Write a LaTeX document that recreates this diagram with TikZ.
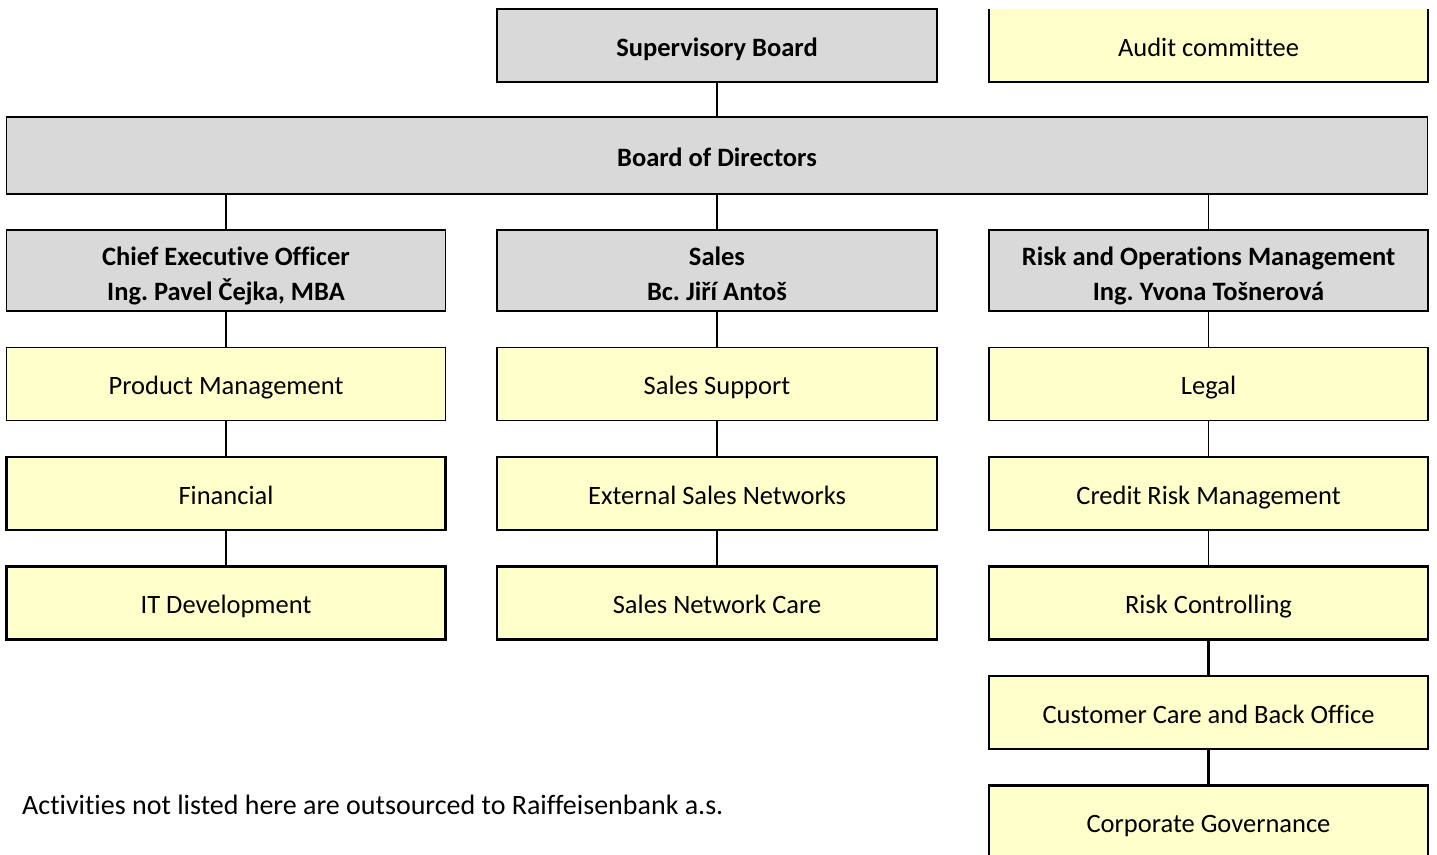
\documentclass[tikz,border=0pt]{standalone}
\usepackage{fontspec}
\setmainfont{Carlito}[Ligatures={TeX,NoCommon}]
\usepackage{xcolor}
\usetikzlibrary{positioning}
\definecolor{boardgrey}{HTML}{D9D9D9}
\definecolor{unityellow}{HTML}{FFFFCC}
\frenchspacing

\begin{document}
\begin{tikzpicture}[node distance=36.5pt, font=\fontsize{26.5}{32}\selectfont]
\tikzstyle{board}=[draw, fill=boardgrey, font=\fontsize{26.5}{35.5}\selectfont\bfseries, align=center, execute at begin node={\rule{0pt}{24pt}}, text depth=3pt, minimum width=439pt, minimum height=73pt, inner sep=0pt, outer sep=0pt, line width=1.3pt]
\tikzstyle{head}=[board, minimum height=81pt, execute at begin node={\rule{0pt}{63pt}}]
\tikzstyle{unit}=[draw, fill=unityellow, text height=26pt, text depth=5pt, minimum width=439pt, minimum height=73pt, inner sep=0pt, outer sep=0pt, line width=1.3pt]
\tikzstyle{heavy}=[line width=2.6pt]
\tikzstyle{link}=[line width=1.3pt]
\tikzstyle{heavylink}=[line width=2.6pt]

\useasboundingbox (0,0) rectangle (1437pt,-854pt);

% top level
\node[board, heavy, minimum width=440pt] (sup) at (717pt,-45.5pt) {Supervisory Board};
\node[unit, draw=none, right=52pt of sup] (audit) {Audit committee};
\draw[link] (audit.north west) -- (audit.south west) -- (audit.south east) -- (audit.north east);

\node[board, minimum width=1421.5pt, minimum height=77pt, below=35pt of sup] (bod) {Board of Directors};

% heads of divisions
\node[head, minimum width=440pt, below=36pt of bod] (sales) {Sales\\Bc. Jiří Antoš};
\node[head, left=51.5pt of sales] (ceo) {Chief Executive Officer\\Ing. Pavel Čejka, MBA};
\node[head, right=52pt of sales] (risk) {Risk and Operations Management\\Ing. Yvona Tošnerová};

% CEO column
\node[unit, below=of ceo] (prod) {Product Management};
\node[unit, heavy, below=of prod] (fin) {Financial};
\node[unit, heavy, below=of fin] (itdev) {IT Development};

% sales column
\node[unit, minimum width=440pt, below=of sales] (support) {Sales Support};
\node[unit, minimum width=440pt, below=of support] (extnet) {External Sales Networks};
\node[unit, heavy, minimum width=440pt, below=of extnet] (netcare) {Sales Network Care};

% risk column
\node[unit, below=of risk] (legal) {Legal};
\node[unit, below=of legal] (credit) {Credit Risk Management};
\node[unit, heavy, below=of credit] (riskctrl) {Risk Controlling};
\node[unit, heavy, below=of riskctrl] (custcare) {Customer Care and Back Office};
\node[unit, heavy, below=of custcare] (corpgov) {Corporate Governance};

\node[anchor=base west, inner sep=0pt, font=\fontsize{28}{32}\selectfont] (note) at (22pt,-814pt) {Activities not listed here are outsourced to Raiffeisenbank a.s.};

% connectors
\draw[link] (sup) -- (bod);
\foreach \n in {ceo,sales,risk}
  \draw[link] (bod.south -| \n) -- (\n);
\draw[link] (ceo) -- (prod) -- (fin);
\draw[heavylink] (fin) -- (itdev);
\draw[link] (sales) -- (support) -- (extnet) -- (netcare);
\draw[link] (risk) -- (legal) -- (credit) -- (riskctrl);
\draw[heavylink] (riskctrl) -- (custcare) -- (corpgov);

\end{tikzpicture}
\end{document}
